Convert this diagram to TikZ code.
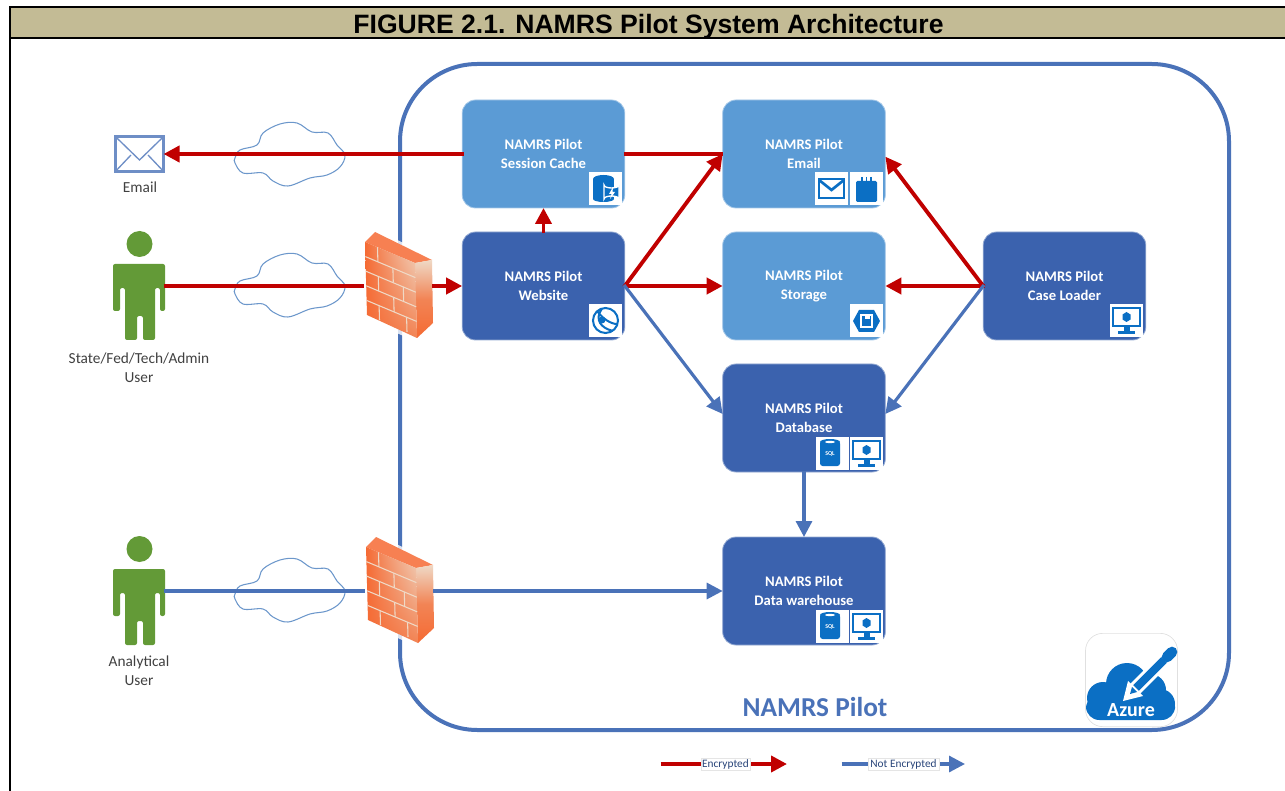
\documentclass[tikz,border=0pt]{standalone}
\usepackage{fontspec}
\setmainfont{Carlito}
\newfontfamily\headfont{Liberation Sans}
\usetikzlibrary{arrows.meta,calc,shadings}
\definecolor{hdr}{HTML}{C3BB95}
\definecolor{lightsvc}{HTML}{5B9BD5}
\definecolor{darksvc}{HTML}{3B62AE}
\definecolor{edgeblue}{HTML}{4A72B8}
\definecolor{edgered}{HTML}{C00000}
\definecolor{cloudline}{HTML}{6C97CB}
\definecolor{azure}{HTML}{0B6FC4}
\definecolor{usergreen}{HTML}{639A37}
\definecolor{fworange}{HTML}{F56A33}
\definecolor{fwmid}{HTML}{F28455}
\definecolor{fwpale}{HTML}{EFD9C6}
\definecolor{labelgrey}{HTML}{404040}
\tikzset{
  svcbase/.style={rectangle,rounded corners=10pt,minimum width=122pt,minimum height=81pt,inner sep=0pt,outer sep=0pt,align=center,text=white,font=\fontsize{11}{14.25}\selectfont\bfseries},
  svclight/.style={svcbase,fill=lightsvc,draw=lightsvc!55!white,line width=.6pt},
  svcdark/.style={svcbase,fill=darksvc,draw=darksvc!55!white,line width=.6pt},
  redlink/.style={draw=edgered,line width=2.9pt,shorten <=-1pt},
  bluelink/.style={draw=edgeblue,line width=2.4pt,shorten <=-1pt},
  headed/.style={-{Triangle[length=12pt,width=12pt]}},
  actorlabel/.style={align=center,text=labelgrey,font=\fontsize{11.5}{14.25}\selectfont,inner sep=0pt},
  anchorbox/.style={rectangle,inner sep=0pt,outer sep=0pt},
  iconbg/.style={fill=white,draw=none},
  iconfill/.style={fill=azure,draw=none},
  iconline/.style={draw=azure,line width=1.5pt,fill=none},
  cloudshape/.style={draw=cloudline,line width=.8pt,fill=none},
  legendtag/.style={draw=black!10,fill=white,inner sep=1pt,text=darksvc!70!black,font=\fontsize{8.5}{10}\selectfont},
}
\newcommand{\iconbox}[2]{\begin{scope}[shift={(#1,#2)}]\fill[iconbg] (0,0) rectangle (33,33);}
\newcommand{\iconcache}[2]{\iconbox{#1}{#2}
  \fill[iconfill] (4,7) rectangle (25,27);\fill[iconfill] (14.5,7) ellipse [x radius=10.5,y radius=4];\fill[iconfill] (14.5,27) ellipse [x radius=10.5,y radius=3];
  \draw[white,fill=azure,line width=1pt] (15,13) -- (15,27) arc[start angle=180,end angle=360,x radius=7.5,y radius=3] -- (30,13) arc[start angle=0,end angle=180,x radius=7.5,y radius=3] -- cycle;
  \fill[white] (24,15) -- (20,22) -- (22.5,22) -- (21,27) -- (26,20) -- (23.5,20) -- cycle;
  \end{scope}}
\newcommand{\iconmail}[2]{\iconbox{#1}{#2}
  \draw[iconline,line width=2pt] (4,7) rectangle (29,26);
  \draw[iconline,line width=2pt] (4,8) -- (16.5,18) -- (29,8);
  \end{scope}}
\newcommand{\iconbag}[2]{\iconbox{#1}{#2}
  \fill[iconfill,rounded corners=1pt] (6,9) rectangle (27,30);
  \foreach \tx in {12,16.5,21}{\draw[azure,line width=.8pt] (\tx,5) -- (\tx,9);}
  \end{scope}}
\newcommand{\iconweb}[2]{\iconbox{#1}{#2}
  \draw[iconline] (16.5,16.5) circle [radius=12.5];
  \draw[iconline] (8,7) .. controls (14,15) and (22,20) .. (28,20);
  \draw[iconline] (13,4.5) .. controls (5,16) and (12,24) .. (24,27);
  \fill[iconfill] (13,16) circle [radius=3.5];
  \end{scope}}
\newcommand{\iconstore}[2]{\iconbox{#1}{#2}
  \fill[iconfill] (3,17) -- (9,6) -- (24,6) -- (30,17) -- (24,28) -- (9,28) -- cycle;
  \draw[white,line width=1pt] (11,11) rectangle (22,23);
  \fill[white] (15,11) rectangle (20,15);
  \end{scope}}
\newcommand{\iconsql}[2]{\iconbox{#1}{#2}
  \fill[iconfill,rounded corners=2pt] (4,4) rectangle (24,29);
  \fill[iconfill] (14,5) ellipse [x radius=10,y radius=3];
  \fill[white] (14,5) ellipse [x radius=5,y radius=1.2];
  \node[inner sep=0pt,text=white,font=\fontsize{4.5}{5}\selectfont\bfseries] (sqltag) at (14,17) {SQL};
  \end{scope}}
\newcommand{\iconpc}[2]{\iconbox{#1}{#2}
  \draw[iconline] (3,4) rectangle (30,22);
  \fill[azure] (16.5,8) -- (20.5,10.5) -- (20.5,15.5) -- (16.5,18) -- (12.5,15.5) -- (12.5,10.5) -- cycle;
  \fill[iconfill] (13.5,22) rectangle (19.5,27);
  \fill[iconfill] (8,27) rectangle (25,30);
  \end{scope}}
\newcommand{\person}[3]{% name, head y, connector y
  \node[anchorbox,minimum width=39pt,minimum height=30pt] (#1) at (139,#3) {};
  \begin{scope}[shift={(0,#2-244)}]
  \fill[usergreen] (139.5,244) circle [radius=13];
  \fill[usergreen,rounded corners=1.5pt] (113,311) -- (113,264) -- (165,264) -- (165,311) -- (160,311) -- (160,288) -- (155,288)
     -- (155,340) -- (143,340) -- (143,316) -- (137,316) -- (137,340) -- (125,340) -- (125,288) -- (120,288) -- (120,311) -- cycle;
  \end{scope}}
\newcommand{\netcloud}[2]{% name, y
  \draw[cloudshape,shift={(290,#2)}] plot[smooth cycle,tension=.6] coordinates {(-55,3)(-50,-5)(-33,-10)(-27,-22)(-10,-31)(7,-32)(22,-23)(38,-22)(47,-10)(55,0)(50,12)(37,20)(20,23)(-2,31)(-17,26)(-27,18)(-47,18)(-55,8)};
  \node[anchorbox,minimum width=82pt,minimum height=47pt] (#1) at (290,#2) {};}
\newcommand{\fwpt}[2]{({365+50*(#1)+2*(#2)},{242+21*(#1)+73*(#2)})}
\newcommand{\firewall}[3]{% name, dx, dy
  \node[anchorbox,minimum width=52pt,minimum height=60pt] (#1) at ({399+#2},{286+#3}) {};
  \begin{scope}[shift={(#2,#3)}]
  \fill[white,opacity=.8] (362,240) -- (375,229) -- (436,259) -- (436,325) -- (417,342) -- (363,318) -- cycle;
  \fill[fworange!85!white] (365,242) -- (375,232) -- (432,260) -- (415,263) -- cycle;
  \shade[top color=fwpale,bottom color=fworange,middle color=fwmid] (415,263) -- (432,260) -- (433,323) -- (417,338) -- cycle;
  \shade[shading=bilinear interpolation,lower left=fworange,lower right=fwmid,upper left=fworange,upper right=fwpale] (365,242) -- (415,263) -- (417,338) -- (367,315) -- cycle;
  \foreach \rv in {.2,.4,.6,.8}{\draw[fwpale,line width=.8pt] \fwpt{0}{\rv} -- \fwpt{1}{\rv};}
  \foreach \bu/\bv in {.25/0,.55/.2,.25/.4,.75/.4,.55/.6,.25/.8,.8/.8}{\draw[fwpale,line width=.8pt] \fwpt{\bu}{\bv} -- \fwpt{\bu}{\bv+.2};}
  \end{scope}}
\begin{document}
\begin{tikzpicture}[x=0.75pt,y=-0.75pt]
\useasboundingbox (0,0) rectangle (1285,791);
% header and frame
\fill[hdr] (10,7) rectangle (1285,38);
\draw[black,line width=2pt] (1285,7) -- (10,7) -- (10,791);
\draw[black,line width=2pt] (10,38) -- (1285,38);
\node[inner sep=0pt,font=\headfont\fontsize{15.1}{18}\selectfont\bfseries,scale=1.32] (title) at (648.5,27) {FIGURE 2.1. NAMRS Pilot System Architecture};
% container
\node[rectangle,draw=edgeblue,line width=3pt,rounded corners=58pt,minimum width=621.75pt,minimum height=499.5pt,inner sep=0pt] (namrs) at (814.5,397) {};
\node[inner sep=0pt,text=edgeblue,font=\fontsize{20.5}{24}\selectfont\bfseries] (namrslabel) at (815,707) {NAMRS Pilot};
% clouds
\netcloud{cloudA}{155}
\netcloud{cloudB}{286}
\netcloud{cloudC}{591}
% services
\node[svclight] (cache) at (543.5,154) {NAMRS Pilot\\Session Cache};
\node[svcdark] (web) at (543.5,286) {NAMRS Pilot\\Website};
\node[svclight] (email) at (804,154) {NAMRS Pilot\\Email};
\node[svclight] (store) at (804,286) {NAMRS Pilot\\Storage};
\node[svcdark] (db) at (804,418) {NAMRS Pilot\\Database};
\node[svcdark] (dw) at (804,591) {NAMRS Pilot\\Data warehouse};
\node[svcdark] (loader) at (1064.5,286) {NAMRS Pilot\\Case Loader};
% service icons
\iconcache{589}{172}
\iconmail{815}{172}
\iconbag{850}{172}
\iconweb{589}{304}
\iconstore{850}{304}
\iconsql{816}{437}
\iconpc{850}{437}
\iconsql{816}{610}
\iconpc{850}{610}
\iconpc{1110}{304}
% actors
\person{userA}{244}{286}
\person{userB}{549}{591}
\node[actorlabel] (userAlabel) at (139,368) {State/Fed/Tech/Admin\\User};
\node[actorlabel] (userBlabel) at (139,671) {Analytical\\User};
\node[anchorbox,draw=edgeblue!80!white,line width=1.8pt,minimum width=36pt,minimum height=26pt] (mail) at (139.5,154) {};
\draw[edgeblue!80!white,line width=1pt] (mail.north west) -- (139.5,160) -- (mail.north east);
\draw[edgeblue!80!white,line width=1pt] (mail.south west) -- (131,155);
\draw[edgeblue!80!white,line width=1pt] (mail.south east) -- (148,155);
\node[actorlabel] (maillabel) at (140,187) {Email};
% firewalls
\firewall{fwA}{0}{0}
\firewall{fwB}{1}{305}
% connectors
\draw[redlink,headed] (cache.west) -- (mail.east);
\draw[redlink] (userA.east) -- (fwA.west);
\draw[redlink,headed] (fwA.east) -- (web.west);
\draw[redlink] (cache.east) -- (email.west);
\draw[redlink,headed] (web.east) -- (email.west);
\draw[redlink,headed] (web.north) -- (cache.south);
\draw[redlink,headed] (web.east) -- (store.west);
\draw[bluelink,headed] (web.east) -- ([yshift=3pt]db.west);
\draw[redlink,headed] (loader.west) -- ([yshift=-2pt]email.east);
\draw[redlink,headed] (loader.west) -- (store.east);
\draw[bluelink,headed] (loader.west) -- ([yshift=3pt]db.east);
\draw[bluelink,headed] (db.south) -- (dw.north);
\draw[bluelink] (userB.east) -- (fwB.west);
\draw[bluelink,headed] (fwB.east) -- (dw.west);
% Azure badge
\node[rectangle,draw=black!12,fill=white,line width=.5pt,rounded corners=13pt,minimum width=69pt,minimum height=70pt,inner sep=0pt] (azurebadge) at (1131.5,680) {};
\fill[azure,rounded corners=10pt] (1086,695) rectangle (1175,720);
\fill[azure] (1103,698) circle [radius=16];
\fill[azure] (1127,684) circle [radius=21];
\fill[azure] (1150,690) circle [radius=16];
\fill[azure] (1160,704) circle [radius=15];
\draw[white,line width=10.5pt] (1134,690) -- (1164,660);
\draw[azure,line width=6pt] (1136,688) -- (1164,660);
\fill[white] (1123,701) -- (1128,681) -- (1143,696) -- cycle;
\fill[azure] (1130,694) -- (1132,687) -- (1137,692) -- cycle;
\draw[azure,line width=8pt,line cap=round] (1167,657) -- (1172,652);
\node[inner sep=0pt,text=white,font=\fontsize{15}{17}\selectfont\bfseries] (azurelabel) at (1131,710) {Azure};
% legend
\coordinate (legRedA) at (662,764);
\coordinate (legRedB) at (787,764);
\coordinate (legBlueA) at (843,764);
\coordinate (legBlueB) at (965,764);
\draw[redlink,headed] (legRedA) -- (legRedB);
\draw[bluelink,headed] (legBlueA) -- (legBlueB);
\node[legendtag,minimum width=37pt] (legRed) at (725.5,764) {Encrypted};
\node[legendtag,minimum width=53pt] (legBlue) at (903.5,764) {Not Encrypted};
\end{tikzpicture}
\end{document}
